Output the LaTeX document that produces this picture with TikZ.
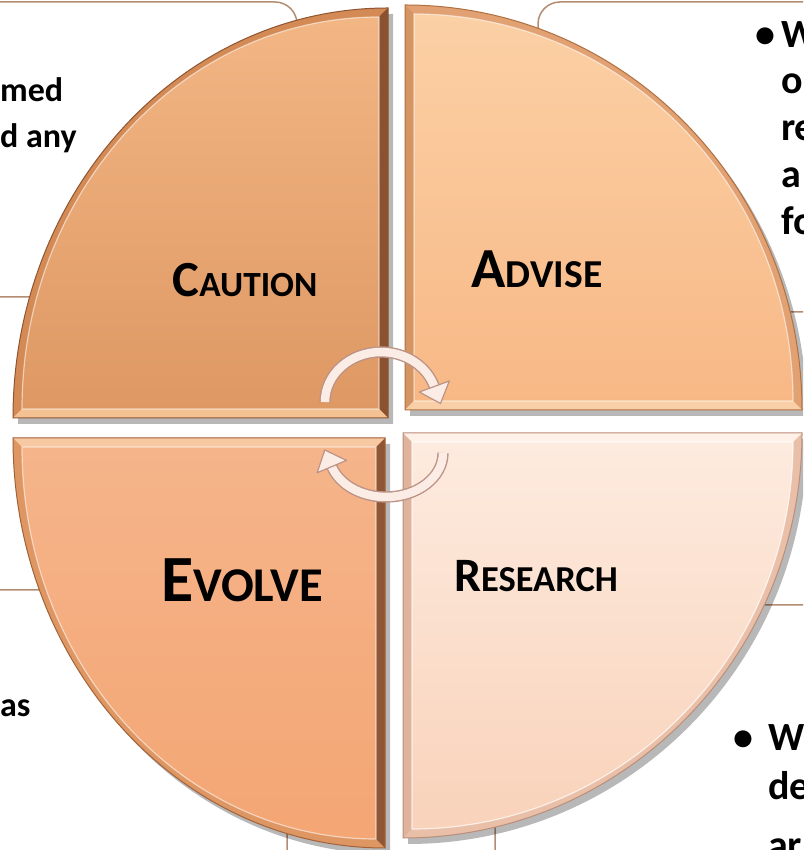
\documentclass[tikz,border=0pt]{standalone}
\usepackage{fontspec}
\usepackage{graphicx}
\setmainfont{Carlito}
\definecolor{boxedge}{HTML}{B38C72}
\definecolor{cauband}{HTML}{D48A55}
\definecolor{caudark}{HTML}{8A5230}
\definecolor{caulight}{HTML}{F3C192}
\definecolor{cauline}{HTML}{8F5530}
\definecolor{cautop}{HTML}{F2B684}
\definecolor{caubot}{HTML}{DE9863}
\definecolor{advband}{HTML}{E2A172}
\definecolor{advdark}{HTML}{D59563}
\definecolor{advlight}{HTML}{F8CFA6}
\definecolor{advline}{HTML}{B0703F}
\definecolor{advtop}{HTML}{FBD0A5}
\definecolor{advbot}{HTML}{F8B886}
\definecolor{evoband}{HTML}{DE9663}
\definecolor{evodark}{HTML}{8E5634}
\definecolor{evolight}{HTML}{F7C9A2}
\definecolor{evoline}{HTML}{A3633A}
\definecolor{evotop}{HTML}{F5B48A}
\definecolor{evobot}{HTML}{F4A674}
\definecolor{resband}{HTML}{E9BFA8}
\definecolor{resdark}{HTML}{E0B49C}
\definecolor{reslight}{HTML}{FFF1E8}
\definecolor{resline}{HTML}{B98E7A}
\definecolor{restop}{HTML}{FDEBDF}
\definecolor{resbot}{HTML}{F9D2BA}
\definecolor{arrowedge}{HTML}{BC9384}
\definecolor{arrowfill}{HTML}{FBEDE6}
% quadrant path: corner x, corner y, x radius, y radius, start angle, options
\newcommand{\quadp}[6]{\path[#6] (#1,#2) -- ++(#5:#3pt and #4pt) arc[start angle=#5, delta angle=90, x radius=#3pt, y radius=#4pt] -- cycle;}
\newcommand{\bigsmall}[4]{{\fontsize{#1}{#1}\selectfont #2}{\fontsize{#3}{#3}\selectfont #4}}
\begin{document}
\begin{tikzpicture}[x=1pt,y=1pt,
  tbox/.style={fill=white, draw=boxedge, line width=1.5pt, rounded corners=22pt},
  lefttxt/.style={font=\fontsize{34}{34}\selectfont\bfseries, anchor=base west, inner sep=0pt},
  righttxt/.style={font=\fontsize{40}{40}\selectfont\bfseries, anchor=base west, inner sep=0pt},
  qlabel/.style={font=\bfseries, anchor=base, inner sep=0pt},
  arrowbody/.style={draw=arrowedge, double=arrowfill, double distance=8.5pt, line width=1.4pt},
  arrowhead/.style={fill=arrowfill, draw=arrowedge, line width=1.2pt, line join=round}]
\useasboundingbox (0,0) rectangle (803,850);
\clip (0,0) rectangle (803,850);
\fill[white] (0,0) rectangle (803,850);

% text boxes behind the circle
\draw[tbox] (-60,553) rectangle (297,848);
\draw[tbox] (538,538) rectangle (860,848);
\draw[tbox] (-60,-60) rectangle (287,260);
\draw[tbox] (495,-60) rectangle (860,245);

\node[lefttxt] (tl1) at (0,748) {med};
\node[lefttxt] (tl2) at (0,702) {d any};
\node[lefttxt] (bl1) at (0,133) {as};

\node[righttxt] (trb) at (755,802) {\textbullet};
\node[righttxt] (tr1) at (781,802) {W};
\node[righttxt] (tr2) at (781,756) {o};
\node[righttxt] (tr3) at (781,709) {re};
\node[righttxt] (tr4) at (781,662) {a};
\node[righttxt] (tr5) at (781,615) {fo};

\node[righttxt] (brb) at (733,99) {\textbullet};
\node[righttxt] (br1) at (768,99) {W};
\node[righttxt] (br2) at (768,50) {de};
\node[righttxt] (br3) at (768,-9) {ar};

% shadows
\quadp{393}{426}{375}{410}{90}{fill=black, opacity=0.28}
\quadp{410}{434}{397}{405}{0}{fill=black, opacity=0.28}
\quadp{390}{406}{372}{410}{180}{fill=black, opacity=0.28}
\quadp{408}{411}{399}{405}{270}{fill=black, opacity=0.28}

% CAUTION (top left)
\quadp{388}{432}{375}{410}{90}{fill=cauband}
\fill[caudark] (388,432)--(388,842)--(379,833)--(379,441)--cycle;
\fill[caulight] (388,432)--(13,432)--(22,441)--(379,441)--cycle;
\quadp{379}{441}{357}{392}{90}{top color=cautop, bottom color=caubot}
\quadp{379}{441}{357}{392}{90}{draw=white, draw opacity=0.55, line width=1.2pt}
\quadp{388}{432}{375}{410}{90}{draw=cauline, line width=1pt}

% ADVISE (top right)
\quadp{405}{440}{397}{405}{0}{fill=advband}
\fill[advdark] (405,440)--(405,845)--(414,836)--(414,449)--cycle;
\fill[advlight] (405,440)--(802,440)--(793,449)--(414,449)--cycle;
\quadp{414}{449}{379}{387}{0}{top color=advtop, bottom color=advbot}
\quadp{414}{449}{379}{387}{0}{draw=white, draw opacity=0.55, line width=1.2pt}
\quadp{405}{440}{397}{405}{0}{draw=advline, line width=1pt}

% EVOLVE (bottom left)
\quadp{385}{412}{372}{410}{180}{fill=evoband}
\fill[evodark] (385,412)--(385,2)--(376,11)--(376,403)--cycle;
\fill[evolight] (385,412)--(13,412)--(22,403)--(376,403)--cycle;
\quadp{376}{403}{354}{392}{180}{top color=evotop, bottom color=evobot}
\quadp{376}{403}{354}{392}{180}{draw=white, draw opacity=0.55, line width=1.2pt}
\quadp{385}{412}{372}{410}{180}{draw=evoline, line width=1pt}

% RESEARCH (bottom right)
\quadp{403}{417}{399}{405}{270}{fill=resband}
\fill[resdark] (403,417)--(403,12)--(412,21)--(412,408)--cycle;
\fill[reslight] (403,417)--(802,417)--(793,408)--(412,408)--cycle;
\quadp{412}{408}{381}{387}{270}{top color=restop, bottom color=resbot}
\quadp{412}{408}{381}{387}{270}{draw=white, draw opacity=0.7, line width=1.2pt}
\quadp{403}{417}{399}{405}{270}{draw=resline, line width=1pt}

% quadrant labels
\node[qlabel] (caution) at (245,553) {\bigsmall{50.6}{C}{35.4}{AUTION}};
\node[qlabel] (advise) at (537,562) {\bigsmall{56.6}{A}{39.6}{DVISE}};
\node[qlabel] (evolve) at (242,248) {\bigsmall{66}{E}{48.5}{VOLVE}};
\node[qlabel] (research) at (536,258) {\bigsmall{48}{R}{36.5}{ESEARCH}};

% cycle arrows
\coordinate (tas) at (325,448);
\coordinate (th1) at (449.3,469.0);
\coordinate (tht) at (440.5,446.5);
\coordinate (th2) at (419.3,458.0);
\draw[arrowbody] (tas) arc[start angle=180, end angle=18, x radius=56pt, y radius=50pt];
\draw[arrowhead] (th1) -- (tht) -- (th2) -- cycle;

\coordinate (bas) at (443,397);
\coordinate (bh1) at (346.5,389.6);
\coordinate (bht) at (324.8,400.0);
\coordinate (bh2) at (317.1,377.2);
\draw[arrowbody] (bas) arc[start angle=0, end angle=-162, x radius=57pt, y radius=44pt];
\draw[arrowhead] (bh1) -- (bht) -- (bh2) -- cycle;
\end{tikzpicture}
\end{document}
